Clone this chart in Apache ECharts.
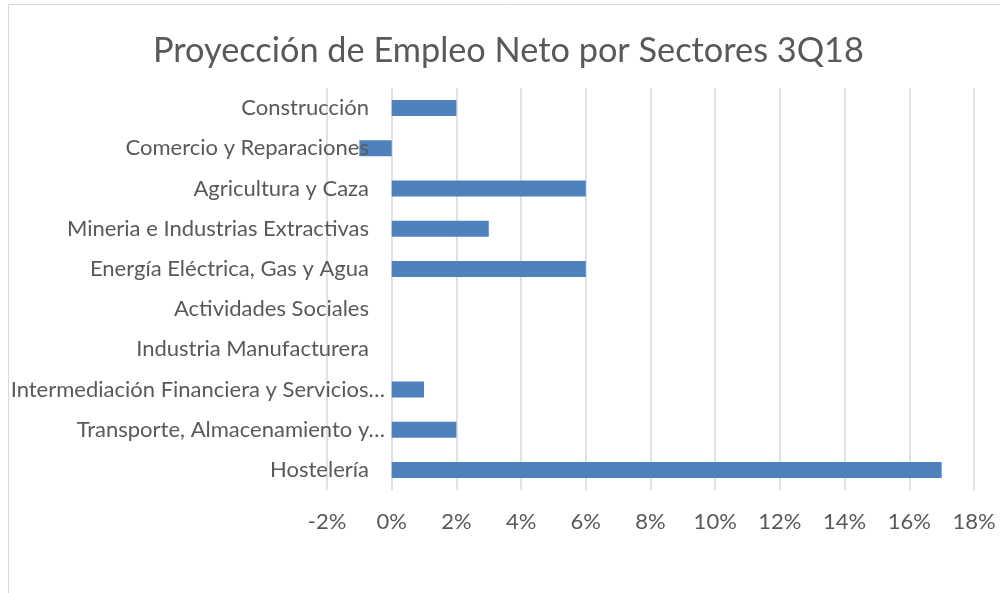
<!DOCTYPE html>
<html>
<head>
<meta charset="utf-8">
<script src="https://cdn.jsdelivr.net/npm/echarts@6/dist/echarts.min.js"></script>
<style>html,body{margin:0;padding:0;background:#fff}#c{width:1000px;height:593px}</style>
</head>
<body>
<div id="c"></div>
<script>
const title = 'Proyección de Empleo Neto por Sectores 3Q18';
const categories = [
  'Construcción',
  'Comercio y Reparaciones',
  'Agricultura y Caza',
  'Mineria e Industrias Extractivas',
  'Energía Eléctrica, Gas y Agua',
  'Actividades Sociales',
  'Industria Manufacturera',
  'Intermediación Financiera y Servicios…',
  'Transporte, Almacenamiento y…',
  'Hostelería'
];
const values = [2, -1, 6, 3, 6, 0, 0, 1, 2, 17];
const axisMin = -2, axisMax = 18, axisStep = 2;

const FONT = 'Lato';
const TXT = '#595959';
const GRID = '#d9d9d9';

const chart = echarts.init(document.getElementById('c'));
chart.setOption({
  animation: false,
  backgroundColor: '#fff',
  textStyle: { fontFamily: FONT },
  graphic: [{
    type: 'rect', silent: true, z: -10,
    shape: { x: 8.5, y: 4.5, width: 1000, height: 600 },
    style: { fill: 'none', stroke: GRID, lineWidth: 1 }
  }],
  title: {
    text: title, left: 148, top: 29,
    textStyle: { fontFamily: FONT, fontSize: 34.3, fontWeight: 'normal', color: TXT }
  },
  grid: { left: 327, right: 26, top: 88, bottom: 103, containLabel: false, outerBoundsMode: 'none' },
  xAxis: {
    type: 'value', min: axisMin, max: axisMax, interval: axisStep,
    axisLine: { show: false }, axisTick: { show: false },
    splitLine: { show: true, lineStyle: { color: GRID, width: 1.5 } },
    axisLabel: { formatter: '{value}%', color: TXT, fontSize: 22, fontFamily: FONT, margin: 21 }
  },
  yAxis: {
    type: 'category', inverse: true, data: categories, z: 5,
    axisLine: { show: false, onZero: false },
    axisTick: { show: false },
    splitLine: { show: false },
    axisLabel: {
      color: TXT, fontSize: 22, fontFamily: FONT, margin: -58,
      formatter: function (v) { return v.endsWith('…') ? v : v + '{s|}'; },
      rich: { s: { width: 16 } }
    }
  },
  series: [{
    type: 'bar', data: values, barWidth: 16,
    itemStyle: { color: '#4f81bd' }
  }]
});
</script>
</body>
</html>
